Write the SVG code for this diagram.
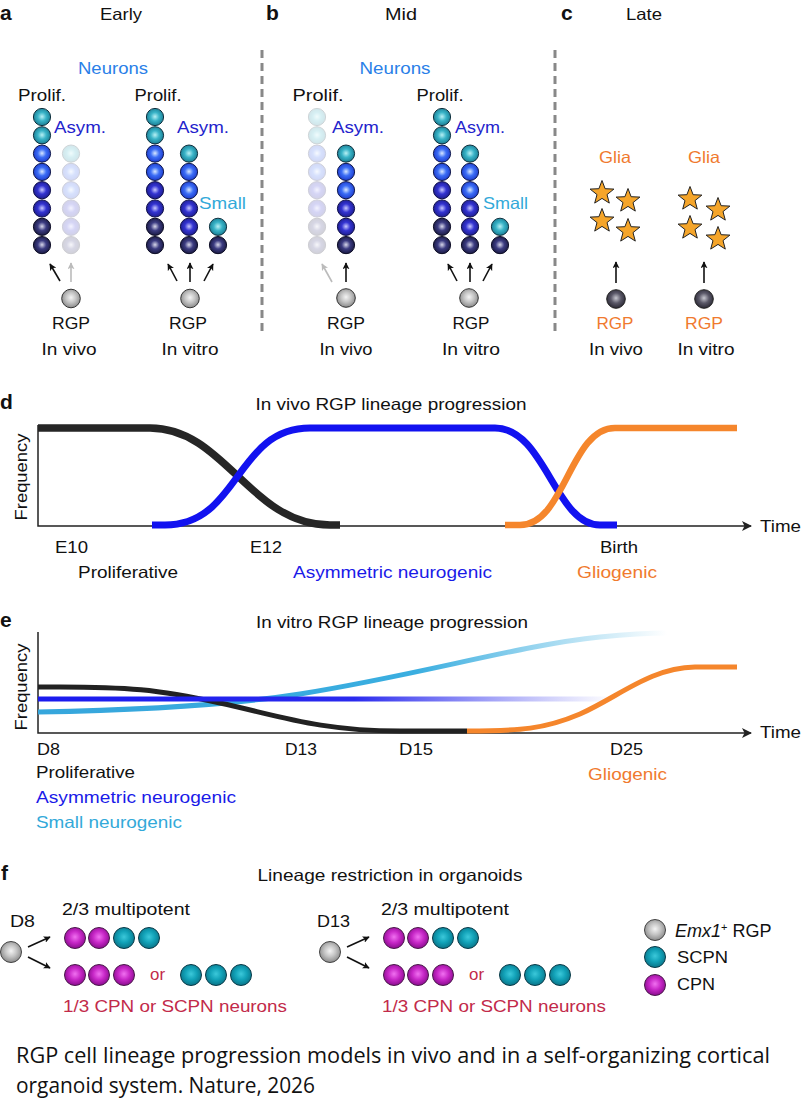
<svg xmlns="http://www.w3.org/2000/svg" xmlns:xlink="http://www.w3.org/1999/xlink" width="801" height="1117" viewBox="0 0 801 1117">
<style>
text{font-family:"Liberation Sans",Arial,sans-serif;font-size:16.5px;fill:#111}
.lbl{font-weight:bold;font-size:21px}
.neu{fill:#2a7fe8}
.asym{fill:#2323cc}
.small{fill:#33a9d9}
.org{fill:#f07a2e}
.red{fill:#c22a4a}
.arr{stroke:#111;stroke-width:1.6;fill:none;marker-end:url(#ah)}
.arrg{stroke:#bbb;stroke-width:1.6;fill:none;marker-end:url(#ahg)}
.axis{stroke:#222;stroke-width:1.5;fill:none}
.dash{stroke:#888;stroke-width:3;stroke-dasharray:8 5}
.star{fill:#f5a52a;stroke:#222;stroke-width:1}
.fa{opacity:0.2}
.cap{font-family:"Open Sans","Noto Sans",sans-serif;font-size:22px;fill:#111}
</style>
<defs>
<radialGradient id="gT" cx="50%" cy="48%" r="55%"><stop offset="0" stop-color="#b8f0f4"/><stop offset="0.45" stop-color="#3ab4c8"/><stop offset="1" stop-color="#16788e"/></radialGradient>
<radialGradient id="gB" cx="50%" cy="48%" r="55%"><stop offset="0" stop-color="#d8e8ff"/><stop offset="0.45" stop-color="#3c6ef6"/><stop offset="1" stop-color="#1a36c8"/></radialGradient>
<radialGradient id="gM" cx="50%" cy="48%" r="55%"><stop offset="0" stop-color="#c8c8ff"/><stop offset="0.45" stop-color="#3434d2"/><stop offset="1" stop-color="#1a1a88"/></radialGradient>
<radialGradient id="gN" cx="50%" cy="48%" r="55%"><stop offset="0" stop-color="#d8d8ea"/><stop offset="0.45" stop-color="#3c3c82"/><stop offset="1" stop-color="#16163c"/></radialGradient>
<radialGradient id="gG" cx="50%" cy="45%" r="55%"><stop offset="0" stop-color="#f4f4f4"/><stop offset="0.5" stop-color="#c4c4c4"/><stop offset="1" stop-color="#8a8a8a"/></radialGradient>
<radialGradient id="gD" cx="50%" cy="45%" r="55%"><stop offset="0" stop-color="#c8c8d0"/><stop offset="0.5" stop-color="#5a5868"/><stop offset="1" stop-color="#2a2834"/></radialGradient>
<radialGradient id="gP" cx="50%" cy="45%" r="55%"><stop offset="0" stop-color="#f070f0"/><stop offset="0.5" stop-color="#c828c8"/><stop offset="1" stop-color="#8a0c8e"/></radialGradient>
<radialGradient id="gC" cx="50%" cy="45%" r="55%"><stop offset="0" stop-color="#3cc8da"/><stop offset="0.5" stop-color="#12a2b8"/><stop offset="1" stop-color="#0a7488"/></radialGradient>
<linearGradient id="fadeB" gradientUnits="userSpaceOnUse" x1="38" y1="0" x2="613" y2="0"><stop offset="0" stop-color="#1a1aee"/><stop offset="0.55" stop-color="#2a2aee"/><stop offset="1" stop-color="#4a4aee" stop-opacity="0"/></linearGradient>
<linearGradient id="fadeS" gradientUnits="userSpaceOnUse" x1="38" y1="0" x2="667" y2="0"><stop offset="0" stop-color="#36a6dc"/><stop offset="0.6" stop-color="#3aaee0"/><stop offset="1" stop-color="#3aaee0" stop-opacity="0"/></linearGradient>
<circle id="bT" r="8.6" fill="url(#gT)" stroke="#10303e" stroke-width="1"/>
<circle id="bB" r="8.6" fill="url(#gB)" stroke="#10184a" stroke-width="1"/>
<circle id="bM" r="8.6" fill="url(#gM)" stroke="#10104a" stroke-width="1"/>
<circle id="bN" r="8.6" fill="url(#gN)" stroke="#0c0c24" stroke-width="1"/>
<circle id="bG" r="9.3" fill="url(#gG)" stroke="#333" stroke-width="1"/>
<circle id="bD" r="9.3" fill="url(#gD)" stroke="#222" stroke-width="1"/>
<circle id="fG" r="10.5" fill="url(#gG)" stroke="#444" stroke-width="1"/>
<circle id="fP" r="10.5" fill="url(#gP)" stroke="#4a1a4a" stroke-width="1"/>
<circle id="fC" r="10.5" fill="url(#gC)" stroke="#0a3a48" stroke-width="1"/>
<polygon id="star" class="star" points="0,-12.5 3.1,-4.3 11.9,-3.9 5,1.6 7.3,10.1 0,5.4 -7.3,10.1 -5,1.6 -11.9,-3.9 -3.1,-4.3"/>
<marker id="ah" viewBox="0 0 10 10" refX="9" refY="5" markerWidth="7" markerHeight="7" orient="auto" markerUnits="userSpaceOnUse"><path d="M0,0 L10,5 L0,10 L2.5,5 z" fill="#111"/></marker>
<marker id="ahg" viewBox="0 0 10 10" refX="9" refY="5" markerWidth="7" markerHeight="7" orient="auto" markerUnits="userSpaceOnUse"><path d="M0,0 L10,5 L0,10 L2.5,5 z" fill="#bbb"/></marker>
<marker id="ahx" viewBox="0 0 10 10" refX="9" refY="5" markerWidth="10" markerHeight="10" orient="auto" markerUnits="userSpaceOnUse"><path d="M0,0 L10,5 L0,10 L2.5,5 z" fill="#222"/></marker>
</defs>
<rect width="801" height="1117" fill="#fff"/>

<!-- separators -->
<g id="separators">
<line class="dash" x1="262" y1="50" x2="262" y2="336"/>
<line class="dash" x1="555" y1="50" x2="555" y2="336"/>
</g>

<!-- panel a -->
<g id="panel-a">
<text class="lbl" x="0" y="20">a</text>
<text x="121" y="20" text-anchor="middle" textLength="42" lengthAdjust="spacingAndGlyphs">Early</text>
<text class="neu" x="113" y="74" text-anchor="middle" textLength="70" lengthAdjust="spacingAndGlyphs">Neurons</text>
</g>
<g id="a-invivo">
<text x="42" y="101" text-anchor="middle" textLength="48" lengthAdjust="spacingAndGlyphs">Prolif.</text>
<text class="asym" x="54" y="133" textLength="52" lengthAdjust="spacingAndGlyphs">Asym.</text>
<use href="#bT" x="42" y="117"/><use href="#bT" x="42" y="135.3"/><use href="#bB" x="42" y="153.6"/><use href="#bB" x="42" y="171.9"/><use href="#bM" x="42" y="190.2"/><use href="#bM" x="42" y="208.5"/><use href="#bN" x="42" y="226.8"/><use href="#bN" x="42" y="245.1"/>
<g class="fa"><use href="#bT" x="71" y="153.6"/><use href="#bB" x="71" y="171.9"/><use href="#bB" x="71" y="190.2"/><use href="#bM" x="71" y="208.5"/><use href="#bM" x="71" y="226.8"/><use href="#bN" x="71" y="245.1"/></g>
<use href="#bG" x="71" y="298.5"/>
<text x="71" y="329" text-anchor="middle" textLength="38" lengthAdjust="spacingAndGlyphs">RGP</text>
<text x="69" y="355" text-anchor="middle" textLength="55" lengthAdjust="spacingAndGlyphs">In vivo</text>
</g>
<g id="a-invitro">
<text x="158" y="101" text-anchor="middle" textLength="47" lengthAdjust="spacingAndGlyphs">Prolif.</text>
<text class="asym" x="177" y="133" textLength="52" lengthAdjust="spacingAndGlyphs">Asym.</text>
<text class="small" x="199" y="209" textLength="47" lengthAdjust="spacingAndGlyphs">Small</text>
<use href="#bT" x="155" y="117"/><use href="#bT" x="155" y="135.3"/><use href="#bB" x="155" y="153.6"/><use href="#bB" x="155" y="171.9"/><use href="#bM" x="155" y="190.2"/><use href="#bM" x="155" y="208.5"/><use href="#bN" x="155" y="226.8"/><use href="#bN" x="155" y="245.1"/>
<use href="#bT" x="189" y="153.6"/><use href="#bB" x="189" y="171.9"/><use href="#bB" x="189" y="190.2"/><use href="#bM" x="189" y="208.5"/><use href="#bM" x="189" y="226.8"/><use href="#bN" x="189" y="245.1"/>
<use href="#bT" x="218" y="226.8"/><use href="#bN" x="218" y="245.1"/>
<use href="#bG" x="190" y="298.5"/>
<text x="188" y="329" text-anchor="middle" textLength="38" lengthAdjust="spacingAndGlyphs">RGP</text>
<text x="190" y="355" text-anchor="middle" textLength="57" lengthAdjust="spacingAndGlyphs">In vitro</text>
</g>

<!-- panel b -->
<g id="panel-b">
<text class="lbl" x="266" y="20">b</text>
<text x="401" y="20" text-anchor="middle" textLength="32" lengthAdjust="spacingAndGlyphs">Mid</text>
<text class="neu" x="395" y="74" text-anchor="middle" textLength="71" lengthAdjust="spacingAndGlyphs">Neurons</text>
</g>
<g id="b-invivo">
<text x="318" y="101" text-anchor="middle" textLength="51" lengthAdjust="spacingAndGlyphs">Prolif.</text>
<text class="asym" x="332" y="133" textLength="52" lengthAdjust="spacingAndGlyphs">Asym.</text>
<g class="fa"><use href="#bT" x="317" y="117"/><use href="#bT" x="317" y="135.3"/><use href="#bB" x="317" y="153.6"/><use href="#bB" x="317" y="171.9"/><use href="#bM" x="317" y="190.2"/><use href="#bM" x="317" y="208.5"/><use href="#bN" x="317" y="226.8"/><use href="#bN" x="317" y="245.1"/></g>
<use href="#bT" x="346" y="153.6"/><use href="#bB" x="346" y="171.9"/><use href="#bB" x="346" y="190.2"/><use href="#bM" x="346" y="208.5"/><use href="#bM" x="346" y="226.8"/><use href="#bN" x="346" y="245.1"/>
<use href="#bG" x="346" y="298"/>
<text x="346" y="329" text-anchor="middle" textLength="38" lengthAdjust="spacingAndGlyphs">RGP</text>
<text x="346" y="355" text-anchor="middle" textLength="53" lengthAdjust="spacingAndGlyphs">In vivo</text>
</g>
<g id="b-invitro">
<text x="440" y="101" text-anchor="middle" textLength="47" lengthAdjust="spacingAndGlyphs">Prolif.</text>
<text class="asym" x="455" y="133" textLength="50" lengthAdjust="spacingAndGlyphs">Asym.</text>
<text class="small" x="483" y="209" textLength="45" lengthAdjust="spacingAndGlyphs">Small</text>
<use href="#bT" x="442" y="117"/><use href="#bT" x="442" y="135.3"/><use href="#bB" x="442" y="153.6"/><use href="#bB" x="442" y="171.9"/><use href="#bM" x="442" y="190.2"/><use href="#bM" x="442" y="208.5"/><use href="#bN" x="442" y="226.8"/><use href="#bN" x="442" y="245.1"/>
<use href="#bT" x="470" y="153.6"/><use href="#bB" x="470" y="171.9"/><use href="#bB" x="470" y="190.2"/><use href="#bM" x="470" y="208.5"/><use href="#bM" x="470" y="226.8"/><use href="#bN" x="470" y="245.1"/>
<use href="#bT" x="500" y="226.8"/><use href="#bN" x="500" y="245.1"/>
<use href="#bG" x="469" y="298"/>
<text x="471" y="329" text-anchor="middle" textLength="37" lengthAdjust="spacingAndGlyphs">RGP</text>
<text x="471" y="355" text-anchor="middle" textLength="58" lengthAdjust="spacingAndGlyphs">In vitro</text>
</g>

<!-- panel c -->
<g id="panel-c">
<text class="lbl" x="561" y="20">c</text>
<text x="644" y="20" text-anchor="middle" textLength="36" lengthAdjust="spacingAndGlyphs">Late</text>
</g>
<g id="c-invivo">
<text class="org" x="615" y="163" text-anchor="middle" textLength="32" lengthAdjust="spacingAndGlyphs">Glia</text>
<use href="#star" x="602" y="193"/><use href="#star" x="628" y="201"/><use href="#star" x="602" y="221"/><use href="#star" x="628" y="231"/>
<use href="#bD" x="616" y="299"/>
<text class="org" x="615" y="329" text-anchor="middle" textLength="37" lengthAdjust="spacingAndGlyphs">RGP</text>
<text x="616" y="355" text-anchor="middle" textLength="54" lengthAdjust="spacingAndGlyphs">In vivo</text>
</g>
<g id="c-invitro">
<text class="org" x="704" y="163" text-anchor="middle" textLength="32" lengthAdjust="spacingAndGlyphs">Glia</text>
<use href="#star" x="690" y="199"/><use href="#star" x="718" y="210"/><use href="#star" x="690" y="228"/><use href="#star" x="718" y="239"/>
<use href="#bD" x="704" y="299"/>
<text class="org" x="704" y="329" text-anchor="middle" textLength="38" lengthAdjust="spacingAndGlyphs">RGP</text>
<text x="706" y="355" text-anchor="middle" textLength="57" lengthAdjust="spacingAndGlyphs">In vitro</text>
</g>

<!-- connectors -->
<g id="connectors">
<line class="arr" x1="60" y1="281" x2="50" y2="264"/>
<line class="arrg" x1="71" y1="282" x2="71" y2="263"/>
<line class="arr" x1="177" y1="281" x2="168" y2="264"/>
<line class="arr" x1="190" y1="282" x2="190" y2="263"/>
<line class="arr" x1="204" y1="281" x2="213" y2="264"/>
<line class="arrg" x1="332" y1="282" x2="322" y2="264"/>
<line class="arr" x1="346" y1="282" x2="346" y2="263"/>
<line class="arr" x1="457" y1="281" x2="448" y2="264"/>
<line class="arr" x1="470" y1="282" x2="470" y2="263"/>
<line class="arr" x1="483" y1="281" x2="492" y2="264"/>
<line class="arr" x1="616" y1="283" x2="616" y2="262"/>
<line class="arr" x1="704" y1="283" x2="704" y2="262"/>
<line class="arr" x1="28" y1="947" x2="50" y2="937"/>
<line class="arr" x1="28" y1="957" x2="50" y2="968"/>
<line class="arr" x1="347" y1="947" x2="369" y2="937"/>
<line class="arr" x1="347" y1="957" x2="369" y2="968"/>
</g>

<!-- panel d -->
<g id="panel-d">
<text class="lbl" x="0" y="409">d</text>
<text x="391" y="410" text-anchor="middle" textLength="271" lengthAdjust="spacingAndGlyphs">In vivo RGP lineage progression</text>
<text transform="translate(27,477) rotate(-90)" text-anchor="middle" textLength="87" lengthAdjust="spacingAndGlyphs">Frequency</text>
<path class="axis" d="M38,425 L38,526 L751,526" marker-end="url(#ahx)"/>
<text x="760" y="532" textLength="41" lengthAdjust="spacingAndGlyphs">Time</text>
<path d="M38,428 L150,428 C225,428 250,525 330,525 L340,525" fill="none" stroke="#262626" stroke-width="7.5"/>
<path d="M152,525 L165,525 C240,525 235,428 310,428 L495,428 C545,428 555,525 600,525 L617,525" fill="none" stroke="#1212f0" stroke-width="7"/>
<path d="M505,525 L520,525 C565,525 570,428 615,428 L737,428" fill="none" stroke="#f5862c" stroke-width="6.5"/>
<text x="55" y="553" textLength="33" lengthAdjust="spacingAndGlyphs">E10</text>
<text x="250" y="553" textLength="32" lengthAdjust="spacingAndGlyphs">E12</text>
<text x="600" y="553" textLength="38" lengthAdjust="spacingAndGlyphs">Birth</text>
<text x="78" y="578" textLength="100" lengthAdjust="spacingAndGlyphs">Proliferative</text>
<text x="293" y="578" textLength="199" lengthAdjust="spacingAndGlyphs" style="fill:#1a1ae8">Asymmetric neurogenic</text>
<text class="org" x="577" y="578" textLength="80" lengthAdjust="spacingAndGlyphs">Gliogenic</text>
</g>

<!-- panel e -->
<g id="panel-e">
<text class="lbl" x="0" y="627">e</text>
<text x="392" y="628" text-anchor="middle" textLength="272" lengthAdjust="spacingAndGlyphs">In vitro RGP lineage progression</text>
<text transform="translate(27,687) rotate(-90)" text-anchor="middle" textLength="87" lengthAdjust="spacingAndGlyphs">Frequency</text>
<path class="axis" d="M38,632 L38,733 L751,733" marker-end="url(#ahx)"/>
<text x="760" y="738" textLength="41" lengthAdjust="spacingAndGlyphs">Time</text>
<path d="M38,712 C150,710 230,705 300,694 C420,675 520,645 600,637 C630,634 650,633 667,633" fill="none" stroke="url(#fadeS)" stroke-width="5"/>
<path d="M38,687 C130,686 160,690 220,703 C280,716 320,731 400,731 L467,731" fill="none" stroke="#222" stroke-width="5"/>
<line x1="38" y1="699" x2="613" y2="699" stroke="url(#fadeB)" stroke-width="5"/>
<path d="M467,731 C520,731 545,729 580,714 C620,696 650,668 695,667 L737,667" fill="none" stroke="#f5862c" stroke-width="5"/>
<text x="37" y="755" textLength="23" lengthAdjust="spacingAndGlyphs">D8</text>
<text x="285" y="755" textLength="32" lengthAdjust="spacingAndGlyphs">D13</text>
<text x="399" y="755" textLength="34" lengthAdjust="spacingAndGlyphs">D15</text>
<text x="610" y="755" textLength="33" lengthAdjust="spacingAndGlyphs">D25</text>
<text x="36" y="778" textLength="99" lengthAdjust="spacingAndGlyphs">Proliferative</text>
<text x="36" y="803" textLength="200" lengthAdjust="spacingAndGlyphs" style="fill:#1a1ae8">Asymmetric neurogenic</text>
<text class="small" x="36" y="828" textLength="146" lengthAdjust="spacingAndGlyphs">Small neurogenic</text>
<text class="org" x="588" y="780" textLength="79" lengthAdjust="spacingAndGlyphs">Gliogenic</text>
</g>

<!-- panel f -->
<g id="panel-f">
<text class="lbl" x="1" y="880">f</text>
<text x="390" y="881" text-anchor="middle" textLength="265" lengthAdjust="spacingAndGlyphs">Lineage restriction in organoids</text>
</g>
<g id="f-d8">
<text x="10" y="927" textLength="25" lengthAdjust="spacingAndGlyphs">D8</text>
<use href="#fG" x="11" y="952"/>
<text x="62" y="915" textLength="128" lengthAdjust="spacingAndGlyphs">2/3 multipotent</text>
<use href="#fP" x="75" y="938"/><use href="#fP" x="99" y="938"/><use href="#fC" x="124" y="938"/><use href="#fC" x="149" y="938"/>
<use href="#fP" x="75" y="975"/><use href="#fP" x="99" y="975"/><use href="#fP" x="124" y="975"/>
<text class="red" x="150" y="980" textLength="15" lengthAdjust="spacingAndGlyphs">or</text>
<use href="#fC" x="191" y="975"/><use href="#fC" x="216" y="975"/><use href="#fC" x="241" y="975"/>
<text class="red" x="63" y="1012" textLength="224" lengthAdjust="spacingAndGlyphs">1/3 CPN or SCPN neurons</text>
</g>
<g id="f-d13">
<text x="317" y="927" textLength="33" lengthAdjust="spacingAndGlyphs">D13</text>
<use href="#fG" x="330" y="952"/>
<text x="381" y="915" textLength="128" lengthAdjust="spacingAndGlyphs">2/3 multipotent</text>
<use href="#fP" x="394" y="938"/><use href="#fP" x="418" y="938"/><use href="#fC" x="443" y="938"/><use href="#fC" x="468" y="938"/>
<use href="#fP" x="394" y="975"/><use href="#fP" x="418" y="975"/><use href="#fP" x="443" y="975"/>
<text class="red" x="469" y="980" textLength="15" lengthAdjust="spacingAndGlyphs">or</text>
<use href="#fC" x="510" y="975"/><use href="#fC" x="535" y="975"/><use href="#fC" x="560" y="975"/>
<text class="red" x="382" y="1012" textLength="224" lengthAdjust="spacingAndGlyphs">1/3 CPN or SCPN neurons</text>
</g>
<g id="legend">
<use href="#fG" x="655" y="930"/>
<text x="675" y="937" style="font-size:18px"><tspan font-style="italic">Emx1</tspan><tspan dy="-6" font-size="11">+</tspan><tspan dy="6"> RGP</tspan></text>
<use href="#fC" x="655" y="957"/>
<text x="677" y="963" textLength="51" lengthAdjust="spacingAndGlyphs">SCPN</text>
<use href="#fP" x="655" y="985"/>
<text x="677" y="990" textLength="38" lengthAdjust="spacingAndGlyphs">CPN</text>
</g>

<!-- caption -->
<g id="caption">
<text class="cap" x="16" y="1063" textLength="754" lengthAdjust="spacingAndGlyphs">RGP cell lineage progression models in vivo and in a self-organizing cortical</text>
<text class="cap" x="16" y="1093" textLength="299" lengthAdjust="spacingAndGlyphs">organoid system. Nature, 2026</text>
</g>
</svg>
